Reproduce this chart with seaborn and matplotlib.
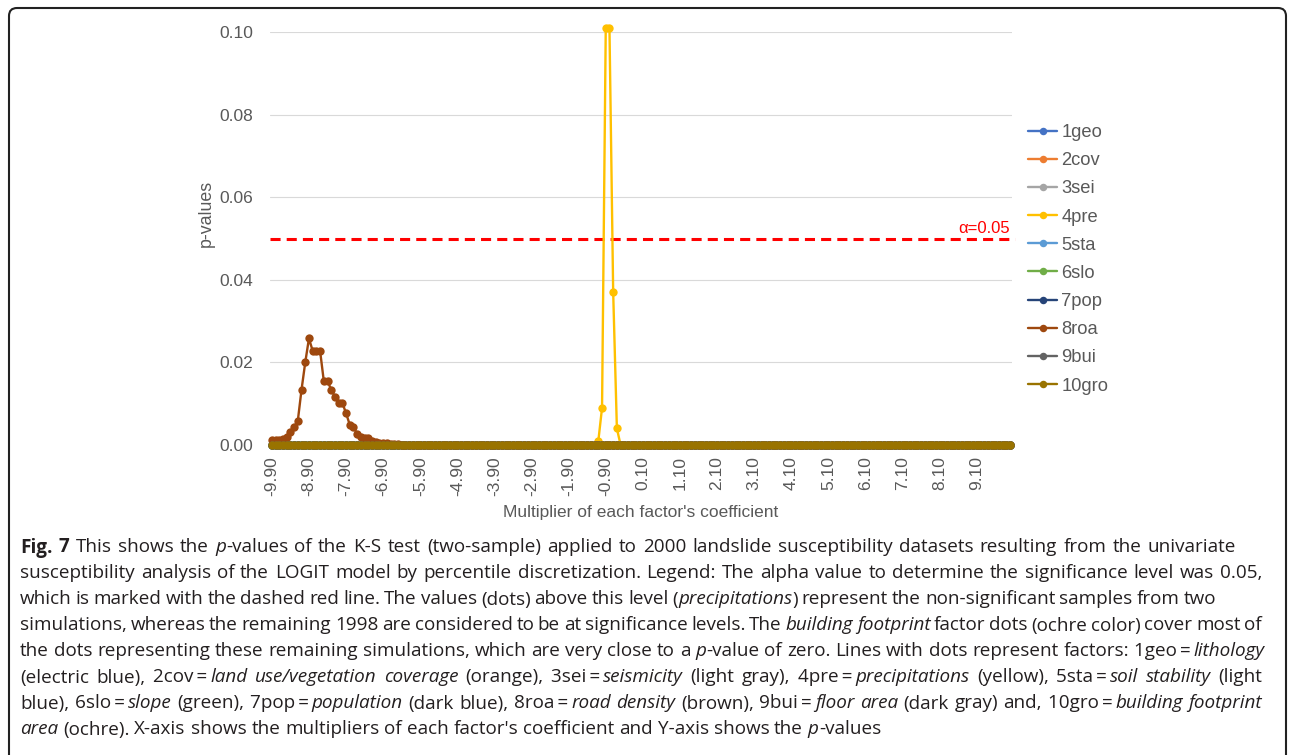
import numpy as np
import pandas as pd
import matplotlib
matplotlib.use("Agg")
import matplotlib.pyplot as plt
import seaborn as sns
from matplotlib.patches import FancyBboxPatch
from matplotlib.transforms import IdentityTransform

# ---- data -------------------------------------------------------------
multipliers = np.round(np.arange(-9.9, 10.0 + 0.05, 0.1), 2)   # 200 multipliers
n = len(multipliers)

factors = ["1geo", "2cov", "3sei", "4pre", "5sta",
           "6slo", "7pop", "8roa", "9bui", "10gro"]
colors = ["#4472C4", "#ED7D31", "#A5A5A5", "#FFC000", "#5B9BD5",
          "#70AD47", "#264478", "#9E480E", "#636363", "#997300"]

# 8roa (road density): p-values from -9.9 upwards, zero afterwards
roa_head = [0.0011, 0.0012, 0.0013, 0.0015, 0.0019, 0.0032, 0.0043, 0.0059,
            0.0134, 0.0200, 0.0258, 0.0228, 0.0228, 0.0228, 0.0155, 0.0155,
            0.0134, 0.0117, 0.0102, 0.0102, 0.0077, 0.0049, 0.0043, 0.0027,
            0.0020, 0.0016, 0.0016, 0.0010, 0.0008, 0.0006, 0.0005, 0.0004,
            0.0003, 0.0002, 0.0002, 0.0001, 0.0001, 0.0001]
# 4pre (precipitations): non-zero only from -1.1 to -0.6
pre_start = -1.1
pre_peak = [0.001, 0.009, 0.101, 0.101, 0.037, 0.004]

zero_series = [0.0] * n
roa = roa_head + [0.0] * (n - len(roa_head))
pre = [0.0] * n
k0 = int(np.argmin(np.abs(multipliers - pre_start)))
pre[k0:k0 + len(pre_peak)] = pre_peak

values = {f: list(zero_series) for f in factors}
values["8roa"] = roa
values["4pre"] = pre

alpha_level = 0.05
tick_values = multipliers[::10]
tick_labels = [f"{v:.2f}" for v in tick_values]

df = pd.concat([pd.DataFrame({"multiplier": multipliers, "p": values[f], "factor": f})
                for f in factors], ignore_index=True)

# ---- figure -----------------------------------------------------------
sns.set_style("white")
plt.rcParams["font.family"] = ["Liberation Sans", "DejaVu Sans"]

W, H = 1292, 755
fig = plt.figure(figsize=(W / 100, H / 100), dpi=100)
ax = fig.add_axes([270 / W, 1 - 445 / H, 742 / W, 413 / H])

gray = "#595959"
sns.lineplot(data=df, x="multiplier", y="p", hue="factor", hue_order=factors,
             palette=colors, marker="o", markersize=6, markeredgewidth=0,
             linewidth=1.7, estimator=None, sort=False, legend=False,
             clip_on=False, ax=ax)
series_lines = list(ax.get_lines())[:len(factors)]

ax.set_xlim(multipliers[0] - 0.05, multipliers[-1] + 0.05)
ax.set_ylim(0, 0.10)
ax.set_yticks(np.arange(0, 0.1001, 0.02))
ax.set_yticklabels([f"{v:.2f}" for v in np.arange(0, 0.1001, 0.02)])
ax.set_xticks(tick_values)
ax.set_xticklabels(tick_labels, rotation=90, va="top", ha="center")
ax.tick_params(axis="both", length=0, labelsize=12.5, labelcolor=gray)
ax.tick_params(axis="y", pad=12)
ax.tick_params(axis="x", pad=8)
ax.yaxis.grid(True, color="#D9D9D9", linewidth=0.8)
ax.xaxis.grid(False)
ax.set_axisbelow(True)
for s in ax.spines.values():
    s.set_visible(False)

ax.set_ylabel("p-values", fontsize=12.8, color=gray, va="center", ha="center")
ax.yaxis.set_label_coords((206 - 270) / 742, (445 - 213) / 413)
ax.set_xlabel("Multiplier of each factor's coefficient", fontsize=12.5,
              color=gray, va="center", ha="center")
ax.xaxis.set_label_coords(0.5, (445 - 513) / 413)

# significance threshold
ax.axhline(alpha_level, color="#FF0000", linewidth=2.2, dashes=(3.3, 2.0),
           xmin=0, xmax=1.004, clip_on=False, zorder=1)
ax.text((1010 - 270) / 742, alpha_level + 0.0007, f"\u03b1={alpha_level:.2f}",
        transform=ax.get_yaxis_transform(), ha="right", va="bottom",
        color="#FF0000", fontsize=12)

fig.legend(series_lines, factors, loc="upper left",
           bbox_to_anchor=(1028 / W, 1 - 124 / H), frameon=False,
           handlelength=1.6, handletextpad=0.22, labelspacing=0.61,
           fontsize=13.2, labelcolor=gray, borderpad=0, borderaxespad=0,
           numpoints=1, markerscale=0.9)

# ---- caption ----------------------------------------------------------
cap_font = ["Open Sans", "DejaVu Sans"]
cap_size = 13.6
cap_color = "#231F20"
N, I, B = "normal", "italic", "bold"
caption = [
    [("Fig. 7", B), (" This shows the ", N), ("p", I),
     ("-values of the K-S test (two-sample) applied to 2000 landslide susceptibility datasets resulting from the univariate", N)],
    [("susceptibility analysis of the LOGIT model by percentile discretization. Legend: The alpha value to determine the significance level was 0.05,", N)],
    [("which is marked with the dashed red line. The values (dots) above this level (", N), ("precipitations", I),
     (") represent the non-significant samples from two", N)],
    [("simulations, whereas the remaining 1998 are considered to be at significance levels. The ", N),
     ("building footprint", I), (" factor dots (ochre color) cover most of", N)],
    [("the dots representing these remaining simulations, which are very close to a ", N), ("p", I),
     ("-value of zero. Lines with dots represent factors: 1geo\u2009=\u2009", N), ("lithology", I)],
    [("(electric blue), 2cov\u2009=\u2009", N), ("land use/vegetation coverage", I), (" (orange), 3sei\u2009=\u2009", N),
     ("seismicity", I), (" (light gray), 4pre\u2009=\u2009", N), ("precipitations", I),
     (" (yellow), 5sta\u2009=\u2009", N), ("soil stability", I), (" (light", N)],
    [("blue), 6slo\u2009=\u2009", N), ("slope", I), (" (green), 7pop\u2009=\u2009", N), ("population", I),
     (" (dark blue), 8roa\u2009=\u2009", N), ("road density", I), (" (brown), 9bui\u2009=\u2009", N),
     ("floor area", I), (" (dark gray) and, 10gro\u2009=\u2009", N), ("building footprint", I)],
    [("area", I), (" (ochre). X-axis shows the multipliers of each factor's coefficient and Y-axis shows the ", N),
     ("p", I), ("-values", N)],
]
# right end of each caption line in pixels (None: last line, left ragged)
line_ends = [1236, 1262, 1216, 1262, 1265, 1262, 1262, None]

renderer = fig.canvas.get_renderer()


def style_kw(st):
    kw = dict(family=cap_font, fontsize=cap_size, color=cap_color)
    if st == I:
        kw["style"] = "italic"
    if st == B:
        kw["weight"] = "bold"
    return kw


def run_width(text, st):
    t = fig.text(0, 0, "|" + text + "|", **style_kw(st))
    w1 = t.get_window_extent(renderer).width
    t.set_text("||")
    w0 = t.get_window_extent(renderer).width
    t.remove()
    return w1 - w0


def tokens(line):
    out = []
    for text, st in line:
        parts = text.split(" ")
        for k, part in enumerate(parts):
            if k > 0:
                out.append((" ", st))
            if part:
                out.append((part, st))
    return out


x0, base0, step = 20.0, 552.5, 26.0
for li, line in enumerate(caption):
    toks = tokens(line)
    widths = [run_width(t, st) for t, st in toks]
    n_gaps = sum(1 for t, _ in toks if t == " ")
    natural = sum(widths)
    extra = 0.0
    if line_ends[li] is not None and n_gaps:
        extra = (line_ends[li] - x0 - natural) / n_gaps
    x = x0
    y = base0 + li * step
    for (t, st), w in zip(toks, widths):
        if t == " ":
            x += w + extra
            continue
        fig.text(x / W, 1 - y / H, t, ha="left", va="baseline", **style_kw(st))
        x += w

# figure frame (open below the bottom edge)
frame = FancyBboxPatch((9, -12), 1277, H - 8 + 12,
                       boxstyle="round,pad=0,rounding_size=8",
                       transform=IdentityTransform(), fill=False,
                       edgecolor="#222222", linewidth=1.5)
fig.add_artist(frame)

fig.savefig("out.png", dpi=100)
